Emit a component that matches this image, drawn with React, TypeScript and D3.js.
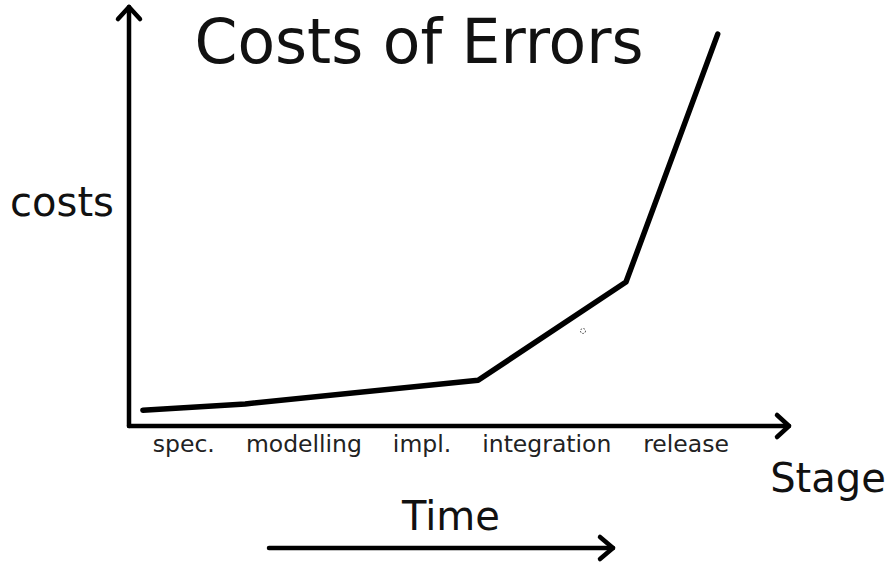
import React from 'react';
import * as d3 from 'd3';

// stage labels and where they sit along the time axis
const stages = ['spec.', 'modelling', 'impl.', 'integration', 'release'];
const stagePos = [0.83, 2.65, 4.44, 6.33, 8.44];

// cost curve (x = time, y = cost)
const curveX = [0.21, 1.76, 5.29, 7.53, 8.92];
const curveY = [0.38, 0.53, 1.1, 3.46, 9.42];

const W = 894;
const H = 569;
const FONT = '"DejaVu Sans", sans-serif';

const App: React.FC = () => {
  const x = d3.scaleLinear().domain([0, 10]).range([129, 789]);
  const y = d3.scaleLinear().domain([0, 10]).range([426, 10]);

  const pts: [number, number][] = curveX.map((v, i) => [x(v), y(curveY[i])]);
  const line = d3.line<[number, number]>().x(d => d[0]).y(d => d[1]);

  const x0 = x(0), y0 = y(0);
  const xEnd = x(10), yEnd = y(10) - 3;

  return (
    <svg width={W} height={H} style={{ position: 'absolute', left: 0, top: 0, background: '#fff' }}>
      {/* axes */}
      <g stroke="#000" strokeWidth={4.5} fill="none" strokeLinecap="round" strokeLinejoin="round">
        <path d={`M${x0},${y0} L${x0},${yEnd}`} />
        <path d={`M${x0 - 11},${yEnd + 12} L${x0},${yEnd} L${x0 + 11},${yEnd + 12}`} />
        <path d={`M${x0},${y0} L${xEnd},${y0}`} />
        <path d={`M${xEnd - 12},${y0 - 11} L${xEnd},${y0} L${xEnd - 12},${y0 + 11}`} />
      </g>

      <path d={line(pts) || ''} fill="none" stroke="#000" strokeWidth={5.5}
        strokeLinecap="round" strokeLinejoin="round" />

      {/* little stray mark */}
      <circle cx={583} cy={331} r={2.5} fill="none" stroke="#333" strokeWidth={1} strokeDasharray="1.5 1.5" />

      <g fontFamily={FONT} fill="#111">
        {stages.map((s, i) => (
          <text key={s} x={x(stagePos[i])} y={452} textAnchor="middle" fontSize={23.5} fill="#222">{s}</text>
        ))}
        <text x={419} y={63} textAnchor="middle" fontSize={61.5}>Costs of Errors</text>
        <text x={62} y={216} textAnchor="middle" fontSize={40}>costs</text>
        <text x={828} y={492} textAnchor="middle" fontSize={40}>Stage</text>
        <text x={451} y={530} textAnchor="middle" fontSize={40}>Time</text>
      </g>

      {/* time arrow */}
      <g stroke="#000" strokeWidth={4.5} fill="none" strokeLinecap="round" strokeLinejoin="round">
        <path d="M269,548 L613,548" />
        <path d="M600,537 L613,548 L600,559" />
      </g>
    </svg>
  );
};

export default App;
